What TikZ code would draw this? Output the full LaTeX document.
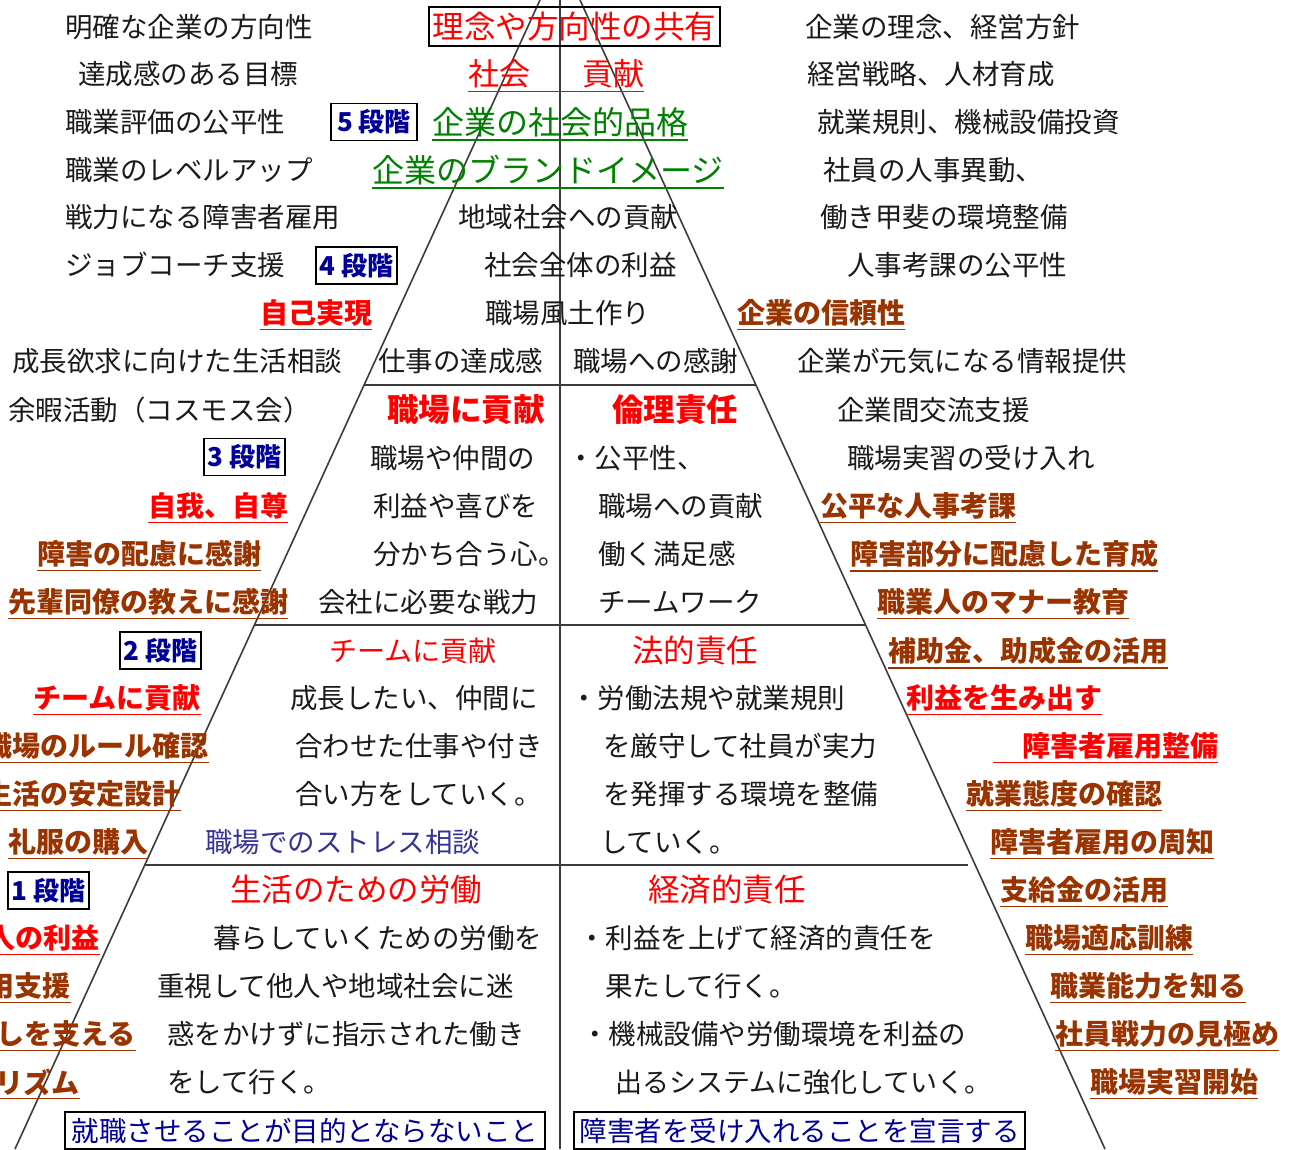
\documentclass[tikz,border=0pt]{standalone}
\usepackage{fontspec}
\newfontfamily\jp{Noto Sans CJK JP}
\definecolor{brn}{HTML}{993300}
\definecolor{grn}{HTML}{008000}
\definecolor{nvy}{HTML}{000099}
\definecolor{slate}{HTML}{333399}
\definecolor{ink}{HTML}{1A1A1A}
\begin{document}
\begin{tikzpicture}[x=1pt,y=-1pt,
 base/.style={inner sep=0pt, font=\jp\fontsize{27.5}{30}\selectfont, text=ink},
 blk/.style={base, anchor=west},
 ul/.style={inner ysep=3pt, append after command={(\tikzlastnode.south west) edge[draw=#1, line width=1.5pt] (\tikzlastnode.south east)}},
 cb/.style={base, font=\jp\bfseries\fontsize{28}{30}\selectfont},
 brul/.style={cb, text=brn, ul=brn, anchor=west},
 rdul/.style={cb, text=red, ul=red, anchor=west},
 ttl/.style={base, anchor=west, text=red, font=\jp\fontsize{31.5}{34}\selectfont},
 ttlb/.style={ttl, font=\jp\bfseries\fontsize{31.5}{34}\selectfont},
 grul/.style={base, anchor=west, text=grn, font=\jp\fontsize{32}{34}\selectfont, ul=grn},
 stage/.style={base, draw=black, line width=1.8pt, anchor=center, minimum width=81pt, minimum height=37pt, font=\jp\bfseries\fontsize{26}{28}\selectfont, text=nvy},
 tbox/.style={base, draw=black, line width=1.8pt, anchor=center, text=nvy},
 frame/.style={line width=1.6pt, draw=ink!85}
]
\useasboundingbox (0,0) rectangle (1293,1149);
% structure
\coordinate (apL) at (540,0);
\coordinate (baseL) at (15,1149);
\coordinate (apR) at (580,0);
\coordinate (baseR) at (1105,1149);
\coordinate (vt) at (560,0);
\coordinate (vb) at (560,1149);
\coordinate (h1a) at (364,385);
\coordinate (h1b) at (756,385);
\coordinate (h2a) at (254,625);
\coordinate (h2b) at (866,625);
\coordinate (h3a) at (145,865);
\coordinate (h3b) at (968,865);
\draw[frame] (apL) -- (baseL);
\draw[frame] (apR) -- (baseR);
\draw[frame] (vt) -- (vb);
\draw[frame] (h1a) -- (h1b);
\draw[frame] (h2a) -- (h2b);
\draw[frame] (h3a) -- (h3b);
% left black
\node[blk] (l1) at (65,27) {明確な企業の方向性};
\node[blk] (l2) at (78,74) {達成感のある目標};
\node[blk] (l3) at (65,122) {職業評価の公平性};
\node[blk] (l4) at (65,170) {職業のレベルアップ};
\node[blk] (l5) at (65,217) {戦力になる障害者雇用};
\node[blk] (l6) at (65,265) {ジョブコーチ支援};
\node[blk] (l8) at (12,361) {成長欲求に向けた生活相談};
\node[blk] (l9) at (8,410) {余暇活動（コスモス会）};
% stages
\node[stage, minimum width=86pt] (s5) at (374,122) {5 段階};
\node[stage] (s4) at (356.5,265.5) {4 段階};
\node[stage] (s3) at (244.5,457) {3 段階};
\node[stage] (s2) at (160.5,650.5) {2 段階};
\node[stage] (s1) at (48.5,890.5) {1 段階};
% left coloured
\node[rdul] (l7) at (260,313) {自己実現};
\node[rdul] (l11) at (148,506) {自我、自尊};
\node[brul] (l12) at (37,554) {障害の配慮に感謝};
\node[brul] (l13) at (8,602) {先輩同僚の教えに感謝};
\node[rdul] (l15) at (33,698) {チームに貢献};
\node[brul, anchor=east] (l16) at (209,746) {職場のルール確認};
\node[brul, anchor=east] (l17) at (181,794) {生活の安定設計};
\node[brul] (l18) at (8,842) {礼服の購入};
\node[rdul, anchor=east] (l20) at (100,938) {人の利益};
\node[brul, anchor=east] (l21) at (71,986) {用支援};
\node[brul, anchor=east] (l22) at (136,1034) {しを支える};
\node[brul, anchor=east] (l23) at (80,1082) {リズム};
% centre
\node[tbox, text=red, font=\jp\fontsize{31.5}{34}\selectfont, minimum width=291pt, minimum height=39pt] (c1) at (574.5,26.5) {理念や方向性の共有};
\node[base, anchor=west, text=red, font=\jp\fontsize{31}{34}\selectfont, ul=red] (c2) at (468,74) {社会\hspace*{52pt}貢献};
\node[grul] (c3) at (432,122) {企業の社会的品格};
\node[grul] (c4) at (372,170) {企業のブランドイメージ};
\node[blk] (c5) at (458,217) {地域社会への貢献};
\node[blk] (c6) at (484,265) {社会全体の利益};
\node[blk] (c7) at (485,313) {職場風土作り};
\node[blk] (c8) at (378,361) {仕事の達成感};
\node[blk] (c9) at (573,361) {職場への感謝};
\node[ttlb] (c10) at (387,410) {職場に貢献};
\node[ttlb] (c11) at (612,410) {倫理責任};
\node[blk] (c12) at (370,458) {職場や仲間の};
\node[blk] (c13) at (373,506) {利益や喜びを};
\node[blk] (c14) at (373,554) {分かち合う心。};
\node[blk] (c15) at (318,602) {会社に必要な戦力};
\node[blk] (c16) at (567,458) {・公平性、};
\node[blk] (c17) at (598,506) {職場への貢献};
\node[blk] (c18) at (598,554) {働く満足感};
\node[blk] (c19) at (598,602) {チームワーク};
\node[ttl, font=\jp\fontsize{28}{30}\selectfont] (c20) at (329,651) {チームに貢献};
\node[blk] (c21) at (290,698) {成長したい、仲間に};
\node[blk] (c22) at (295,746) {合わせた仕事や付き};
\node[blk] (c23) at (295,794) {合い方をしていく。};
\node[blk, text=slate] (c24) at (205,842) {職場でのストレス相談};
\node[ttl] (c25) at (632,651) {法的責任};
\node[blk] (c26) at (570,698) {・労働法規や就業規則};
\node[blk] (c27) at (603,746) {を厳守して社員が実力};
\node[blk] (c28) at (603,794) {を発揮する環境を整備};
\node[blk] (c29) at (600,842) {していく。};
\node[ttl] (c30) at (230,890) {生活のための労働};
\node[blk] (c31) at (213,938) {暮らしていくための労働を};
\node[blk] (c32) at (157,986) {重視して他人や地域社会に迷};
\node[blk] (c33) at (167,1034) {惑をかけずに指示された働き};
\node[blk] (c34) at (167,1082) {をして行く。};
\node[ttl] (c35) at (648,890) {経済的責任};
\node[blk] (c36) at (578,938) {・利益を上げて経済的責任を};
\node[blk] (c37) at (605,986) {果たして行く。};
\node[blk] (c38) at (581,1034) {・機械設備や労働環境を利益の};
\node[blk, font=\jp\fontsize{27}{30}\selectfont] (c39) at (615,1082) {出るシステムに強化していく。};
\node[tbox, minimum width=480pt, minimum height=37pt] (b1) at (305,1130.5) {就職させることが目的とならないこと};
\node[tbox, minimum width=451pt, minimum height=37pt] (b2) at (799.5,1130.5) {障害者を受け入れることを宣言する};
% right
\node[blk] (r1) at (805,27) {企業の理念、経営方針};
\node[blk] (r2) at (807,74) {経営戦略、人材育成};
\node[blk] (r3) at (817,122) {就業規則、機械設備投資};
\node[blk] (r4) at (823,170) {社員の人事異動、};
\node[blk] (r5) at (820,217) {働き甲斐の環境整備};
\node[blk] (r6) at (847,265) {人事考課の公平性};
\node[brul] (r7) at (737,313) {企業の信頼性};
\node[blk] (r8) at (797,361) {企業が元気になる情報提供};
\node[blk] (r9) at (837,410) {企業間交流支援};
\node[blk] (r10) at (847,458) {職場実習の受け入れ};
\node[brul] (r11) at (820,506) {公平な人事考課};
\node[brul] (r12) at (850,554) {障害部分に配慮した育成};
\node[brul] (r13) at (877,602) {職業人のマナー教育};
\node[brul] (r14) at (888,651) {補助金、助成金の活用};
\node[rdul] (r15) at (906,698) {利益を生み出す};
\node[rdul] (r16) at (993,746) {\hspace*{29pt}障害者雇用整備};
\node[brul] (r17) at (966,794) {就業態度の確認};
\node[brul] (r18) at (990,842) {障害者雇用の周知};
\node[brul] (r19) at (1000,890) {支給金の活用};
\node[brul] (r20) at (1025,938) {職場適応訓練};
\node[brul] (r21) at (1050,986) {職業能力を知る};
\node[brul] (r22) at (1055,1034) {社員戦力の見極め};
\node[brul] (r23) at (1090,1082) {職場実習開始};
\end{tikzpicture}
\end{document}
